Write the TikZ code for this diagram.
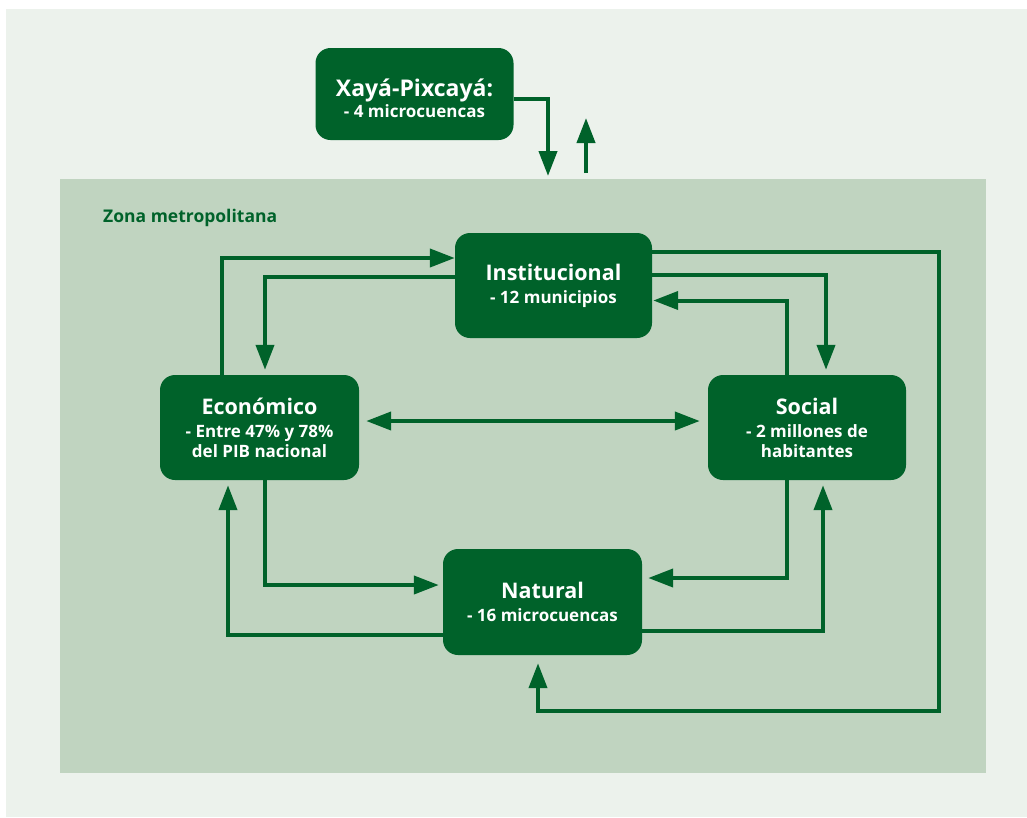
\documentclass[tikz,border=0pt]{standalone}
\usepackage{fontspec}
\setmainfont{Open Sans}
\usetikzlibrary{arrows.meta}
\definecolor{outerbg}{HTML}{ECF2EC}
\definecolor{innerbg}{HTML}{C0D4C0}
\definecolor{dkgreen}{HTML}{00622A}
\newcommand{\ttlf}{\fontsize{21.5}{24}\selectfont}
\newcommand{\subf}{\fontsize{17}{20}\selectfont}
\tikzset{
  box/.style={draw=none, fill=dkgreen, rounded corners=15pt, text=white, align=center, font=\bfseries\subf, inner sep=0pt},
  boxtext/.style={text=white, align=center, font=\bfseries\subf, inner sep=0pt},
  arr/.style={draw=dkgreen, line width=4pt, -{Triangle[length=25pt,width=18pt]}},
  darr/.style={draw=dkgreen, line width=4pt, {Triangle[length=25pt,width=18pt]}-{Triangle[length=25pt,width=18pt]}}
}
\begin{document}
\begin{tikzpicture}[x=1pt,y=-1pt]
\useasboundingbox (0,0) rectangle (1027,817);
\fill[white] (0,0) rectangle (1027,817);
\fill[outerbg] (6,9) rectangle (1027,817);
\fill[innerbg] (60,179) rectangle (986,773);
\node[anchor=base west, text=dkgreen, font=\bfseries\fontsize{17.5}{20}\selectfont, inner sep=0pt] (zona) at (103,222) {Zona metropolitana};

\node[box, minimum width=198pt, minimum height=92pt] (xaya) at (414.5,94) {};
\node[boxtext] (xayat) at (414.5,98.5) {{\fontsize{23}{24}\selectfont Xayá-Pixcayá:}\\[0.5pt]- 4 microcuencas};
\node[box, minimum width=197pt, minimum height=105pt] (inst) at (553.5,285.5) {{\ttlf Institucional}\\[3pt]- 12 municipios};
\node[box, minimum width=199pt, minimum height=105pt] (eco) at (259.5,427.5) {{\ttlf Económico}\\[3pt]- Entre 47\% y 78\%\\del PIB nacional};
\node[box, minimum width=198pt, minimum height=105pt] (soc) at (807,427.5) {{\ttlf Social}\\[3pt]- 2 millones de\\habitantes};
\node[box, minimum width=199pt, minimum height=106pt] (nat) at (542.5,602) {{\ttlf Natural}\\[3pt]- 16 microcuencas};

\coordinate (xin) at (548,176);
\coordinate (xoutA) at (586,173);
\coordinate (xoutB) at (586,118);
\coordinate (r) at (939,711);

\draw[arr] ([yshift=-5pt]xaya.east) -| (xin);
\draw[arr] (xoutA) -- (xoutB);
\draw[arr] ([xshift=-37.5pt]eco.north) |- ([yshift=27.5pt]inst.west);
\draw[arr, shorten >=5pt] ([yshift=8.5pt]inst.west) -| ([xshift=5.5pt]eco.north);
\draw[arr, shorten >=5pt] ([yshift=10.5pt]inst.east) -| ([xshift=19pt]soc.north);
\draw[arr, shorten >=1pt] ([xshift=-20pt]soc.north) |- ([yshift=-15pt]inst.east);
\draw[arr, shorten >=8pt] ([yshift=33.5pt]inst.east) -| (r) -| ([xshift=-4.5pt]nat.south);
\draw[darr, shorten <=7pt, shorten >=8pt] ([yshift=6.5pt]eco.east) -- ([yshift=6.5pt]soc.west);
\draw[arr, shorten >=4pt] ([xshift=5.5pt]eco.south) |- ([yshift=17pt]nat.west);
\draw[arr, shorten >=5pt] ([yshift=-33pt]nat.west) -| ([xshift=-31.5pt]eco.south);
\draw[arr, shorten >=6pt] ([xshift=-20pt]soc.south) |- ([yshift=24pt]nat.east);
\draw[arr, shorten >=5pt] ([yshift=-29pt]nat.east) -| ([xshift=16pt]soc.south);
\end{tikzpicture}
\end{document}
